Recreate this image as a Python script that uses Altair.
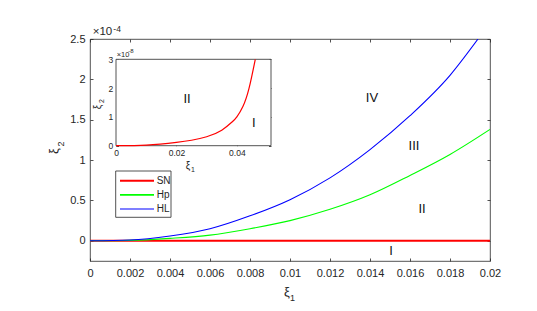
import altair as alt
import pandas as pd

# ---------------- data (main axes, xi2 in units of 1e-4) ----------------
xi1 = [0, 0.002, 0.004, 0.006, 0.008, 0.010, 0.012, 0.014, 0.016, 0.018, 0.020]
sn_main = [0, 0, 0, 0, 0, 0, 0, 0, 0, 0, 0]
hp_main = [0, 0.005, 0.03, 0.07, 0.15, 0.25, 0.39, 0.57, 0.81, 1.07, 1.38]
hl_x = [0, 0.002, 0.004, 0.006, 0.008, 0.010, 0.012, 0.014, 0.016, 0.018, 0.0194]
hl_main = [0, 0.01, 0.06, 0.15, 0.31, 0.51, 0.78, 1.13, 1.55, 2.05, 2.5]

# inset (xi2 in units of 1e-8)
inset_x = [0, 0.01, 0.02, 0.025, 0.03, 0.035, 0.0385, 0.04, 0.042, 0.044, 0.0461]
inset_sn = [0, 0.02, 0.115, 0.19, 0.31, 0.54, 0.83, 1.0, 1.36, 1.98, 3.0]

series_names = ["SN", "Hp", "HL"]
series_colors = ["#ff0000", "#00ff00", "#0000ff"]
series_widths = [2, 1.1, 1.1]

x_ticks = [0, 0.002, 0.004, 0.006, 0.008, 0.01, 0.012, 0.014, 0.016, 0.018, 0.02]
y_ticks = [0, 0.5, 1, 1.5, 2, 2.5]
x_domain = [0, 0.02]
y_domain = [-0.25, 2.5]

inset_x_ticks = [0, 0.02, 0.04]
inset_y_ticks = [0, 1, 2, 3]
inset_x_domain = [0, 0.0513]
inset_y_domain = [0, 3]

region_text = ["IV", "III", "II", "I"]
region_x = [0.0141, 0.0162, 0.0166, 0.01505]
region_y = [1.77, 1.18, 0.40, -0.13]

inset_region_text = ["II", "I"]
inset_region_x = [0.0235, 0.0456]
inset_region_y = [1.62, 0.8]

# ---------------- layout / style ----------------
W, H = 400, 222
FONT = "Liberation Sans"
INK = "#262626"
TK = 3.0      # main tick length
ITK = 2.5     # inset tick length
# inset rectangle in plot-area pixels
IX0, IX1 = 26, 181
IYB, IYT = 106.7, 20.3

xs = alt.Scale(domain=x_domain, nice=False, zero=False)
ys = alt.Scale(domain=y_domain, nice=False, zero=False)
ixs = alt.Scale(domain=inset_x_domain, range=[IX0, IX1], nice=False, zero=False)
iys = alt.Scale(domain=inset_y_domain, range=[IYB, IYT], nice=False, zero=False)

axis_common = dict(domain=False, grid=False, title=None, tickColor=INK, tickWidth=0.8,
                   labelFont=FONT, labelColor=INK, labelFlush=False, labelOverlap=False)

main_df = pd.concat([
    pd.DataFrame({"x": xi1, "y": sn_main, "series": "SN"}),
    pd.DataFrame({"x": xi1, "y": hp_main, "series": "Hp"}),
    pd.DataFrame({"x": hl_x, "y": hl_main, "series": "HL"}),
], ignore_index=True)


def line_layer(name):
    i = series_names.index(name)
    return alt.Chart(main_df[main_df.series == name]).mark_line(
        color=series_colors[i], strokeWidth=series_widths[i], interpolate="monotone", clip=True
    ).encode(
        x=alt.X("x:Q", scale=xs, axis=None),
        y=alt.Y("y:Q", scale=ys, axis=None),
    )


axes_bl = alt.Chart(main_df).mark_line(opacity=0).encode(
    x=alt.X("x:Q", scale=xs, axis=alt.Axis(orient="bottom", offset=-TK, tickSize=TK, values=x_ticks,
                                          format="~g", labelFontSize=11, labelPadding=6, **axis_common)),
    y=alt.Y("y:Q", scale=ys, axis=alt.Axis(orient="left", offset=-TK, tickSize=TK, values=y_ticks,
                                          format="~g", labelFontSize=11, labelPadding=5, **axis_common)),
)
axes_tr = alt.Chart(main_df).mark_line(opacity=0).encode(
    x=alt.X("x:Q", scale=xs, axis=alt.Axis(orient="top", offset=-TK, tickSize=TK, values=x_ticks,
                                          labels=False, **axis_common)),
    y=alt.Y("y:Q", scale=ys, axis=alt.Axis(orient="right", offset=-TK, tickSize=TK, values=y_ticks,
                                          labels=False, **axis_common)),
)

region_df = pd.DataFrame({"x": region_x, "y": region_y, "t": region_text})
regions = alt.Chart(region_df).mark_text(font=FONT, fontSize=13, color="#111111").encode(
    x=alt.X("x:Q", scale=xs, axis=None),
    y=alt.Y("y:Q", scale=ys, axis=None),
    text="t:N",
)


def label(txt, x, y, size, angle=0, align="center", baseline="middle"):
    kw = dict(font=FONT, fontSize=size, color=INK, align=align, baseline=baseline, text=txt)
    if angle:
        kw["angle"] = angle
    return alt.Chart(pd.DataFrame({"a": [0]})).mark_text(**kw).encode(x=alt.value(x), y=alt.value(y))


main_texts = [
    label("×10", 2.7, -4, 11.5, align="left", baseline="alphabetic"),
    label("-4", 23.3, -7.3, 8.5, align="left", baseline="alphabetic"),
    label("ξ", 197, 253, 13),
    label("1", 202.5, 259, 9),
    label("ξ", -36, 112, 13, angle=270),
    label("2", -29.5, 105, 9, angle=270),
]

main = alt.layer(
    axes_bl, axes_tr, line_layer("SN"), line_layer("Hp"), line_layer("HL"), regions, *main_texts
).resolve_axis(x="independent", y="independent")

# ---------------- inset ----------------
inset_df = pd.DataFrame({"x": inset_x, "y": inset_sn})
box_df = pd.DataFrame({"x0": [inset_x_domain[0]], "x1": [inset_x_domain[1]],
                       "y0": [inset_y_domain[0]], "y1": [inset_y_domain[1]]})
inset_box = alt.Chart(box_df).mark_rect(fill="white", stroke=INK, strokeWidth=0.8).encode(
    x=alt.X("x0:Q", scale=ixs, axis=None), x2="x1:Q",
    y=alt.Y("y0:Q", scale=iys, axis=None), y2="y1:Q",
)
inset_line = alt.Chart(inset_df).mark_line(color="#ff0000", strokeWidth=1.2, interpolate="natural",
                                           clip=False).encode(
    x=alt.X("x:Q", scale=ixs, axis=None),
    y=alt.Y("y:Q", scale=iys, axis=None),
)
inset_axes_bl = alt.Chart(inset_df).mark_line(opacity=0).encode(
    x=alt.X("x:Q", scale=ixs, axis=alt.Axis(orient="bottom", offset=(IYB - ITK) - H, tickSize=ITK,
                                           values=inset_x_ticks, format="~g", labelFontSize=8.5,
                                           labelPadding=2.7, **axis_common)),
    y=alt.Y("y:Q", scale=iys, axis=alt.Axis(orient="left", offset=-(IX0 + ITK), tickSize=ITK,
                                           values=inset_y_ticks, format="~g", labelFontSize=8.5,
                                           labelPadding=3.3, **axis_common)),
)
inset_axes_tr = alt.Chart(inset_df).mark_line(opacity=0).encode(
    x=alt.X("x:Q", scale=ixs, axis=alt.Axis(orient="top", offset=-(IYT + ITK), tickSize=ITK,
                                           values=inset_x_ticks, labels=False, **axis_common)),
    y=alt.Y("y:Q", scale=iys, axis=alt.Axis(orient="right", offset=-(W - IX1 + ITK), tickSize=ITK,
                                           values=inset_y_ticks, labels=False, **axis_common)),
)
inset_reg_df = pd.DataFrame({"x": inset_region_x, "y": inset_region_y, "t": inset_region_text})
inset_regions = alt.Chart(inset_reg_df).mark_text(font=FONT, fontSize=13, color="#111111").encode(
    x=alt.X("x:Q", scale=ixs, axis=None),
    y=alt.Y("y:Q", scale=iys, axis=None),
    text="t:N",
)
inset_texts = [
    label("×10", 26.7, 17.7, 7.5, align="left", baseline="alphabetic"),
    label("-8", 38.3, 13.7, 6, align="left", baseline="alphabetic"),
    label("ξ", 98, 127, 10),
    label("1", 103, 131, 7),
    label("ξ", 7.5, 68, 10, angle=270),
    label("2", 11.5, 62, 7, angle=270),
]
inset = alt.layer(
    inset_box, inset_axes_bl, inset_axes_tr, inset_line, inset_regions, *inset_texts
).resolve_axis(x="independent", y="independent")

# ---------------- legend ----------------
leg_df = pd.DataFrame({"series": series_names})
leg_y = alt.Y("series:N", scale=alt.Scale(type="point", domain=series_names, range=[141.7, 170], padding=0),
              axis=None)
leg_box = alt.Chart(pd.DataFrame({"a": [0]})).mark_rect(fill="white", stroke=INK, strokeWidth=0.8).encode(
    x=alt.value(25.7), x2=alt.value(81), y=alt.value(132), y2=alt.value(178.3)
)
leg_rules = alt.Chart(leg_df).mark_rule().encode(
    x=alt.value(30), x2=alt.value(64), y=leg_y,
    color=alt.Color("series:N", scale=alt.Scale(domain=series_names, range=series_colors), legend=None),
    strokeWidth=alt.StrokeWidth("series:N", scale=alt.Scale(domain=series_names, range=series_widths),
                                legend=None),
)
leg_text = alt.Chart(leg_df).mark_text(font=FONT, fontSize=10, color=INK, align="left",
                                       baseline="middle").encode(
    x=alt.value(66.7), y=leg_y, text="series:N"
)
legend = alt.layer(leg_box, leg_rules, leg_text)

chart = alt.layer(main, inset, legend).resolve_scale(
    x="independent", y="independent", color="independent", strokeWidth="independent"
).properties(
    width=W, height=H,
    padding={"left": 82, "top": 31, "right": 30, "bottom": 60},
    autosize=alt.AutoSizeParams(type="none"),
    background="white",
).configure_view(stroke=INK, strokeWidth=0.8)

chart.save("out.html", embed_options={"renderer": "svg", "actions": False})
